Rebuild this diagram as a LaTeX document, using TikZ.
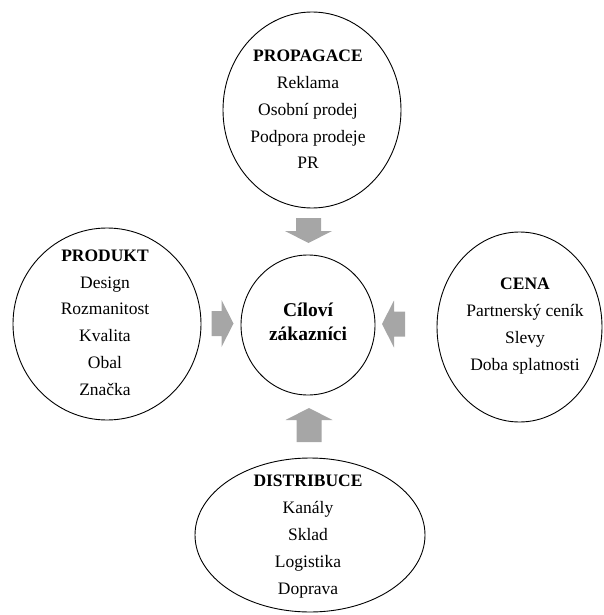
\documentclass[tikz,border=0pt]{standalone}
\usepackage{fontspec}
\setmainfont{Liberation Serif}
\usetikzlibrary{shapes.geometric}
\definecolor{arrowgray}{RGB}{166,166,166}
\tikzset{
  oval/.style={draw=black, line width=0.9pt, ellipse, inner sep=0pt, fill=white},
  ovaltext/.style={align=center, inner sep=0pt, font=\fontsize{17.5}{26.8}\selectfont},
  coretext/.style={align=center, inner sep=0pt, font=\fontsize{19.5}{24}\selectfont\bfseries},
  % block arrow pointing along local +x; #1 = total length
  pics/blockarrow/.style={code={
    \fill[arrowgray] (-#1/2,-12.5) -- ({#1/2-12},-12.5) -- ({#1/2-12},-23.5)
      -- (#1/2,0) -- ({#1/2-12},23.5) -- ({#1/2-12},12.5) -- (-#1/2,12.5) -- cycle;
  }},
}
\begin{document}
\begin{tikzpicture}[x=1pt, y=-1pt]
\useasboundingbox (0,0) rectangle (603,615);

% the four areas of the marketing mix and the customers in the middle
\node[oval, minimum width=178pt, minimum height=196pt] (prop) at (312,110) {};
\node[oval, minimum width=134pt, minimum height=140pt] (core) at (308,325) {};
\node[oval, minimum width=188pt, minimum height=192pt] (prod) at (107,324) {};
\node[oval, minimum width=165pt, minimum height=190pt] (cena) at (519.5,327) {};
\node[oval, minimum width=230pt, minimum height=154pt] (dist) at (310,535) {};

\node[ovaltext] (propT) at (308,109.5)
  {\textbf{PROPAGACE}\\Reklama\\Osobní prodej\\Podpora prodeje\\PR};
\node[coretext] (coreT) at (308,321.5) {Cíloví\\zákazníci};
\node[ovaltext] (prodT) at (105,322.5)
  {\textbf{PRODUKT}\\Design\\Rozmanitost\\Kvalita\\Obal\\Značka};
\node[ovaltext] (cenaT) at (525,326)
  {\textbf{CENA}\\Partnerský ceník\\Slevy\\Doba splatnosti};
\node[ovaltext] (distT) at (308,536.5)
  {\textbf{DISTRIBUCE}\\Kanály\\Sklad\\Logistika\\Doprava};

% block arrows pointing at the centre
\pic[rotate=-90] (aProp) at (308.5,230.5) {blockarrow=25};
\pic[rotate=0]   (aProd) at (222.5,323.5) {blockarrow=22};
\pic[rotate=180] (aCena) at (393.5,324)   {blockarrow=23};
\pic[rotate=90]  (aDist) at (309,425)     {blockarrow=34};
\end{tikzpicture}
\end{document}
